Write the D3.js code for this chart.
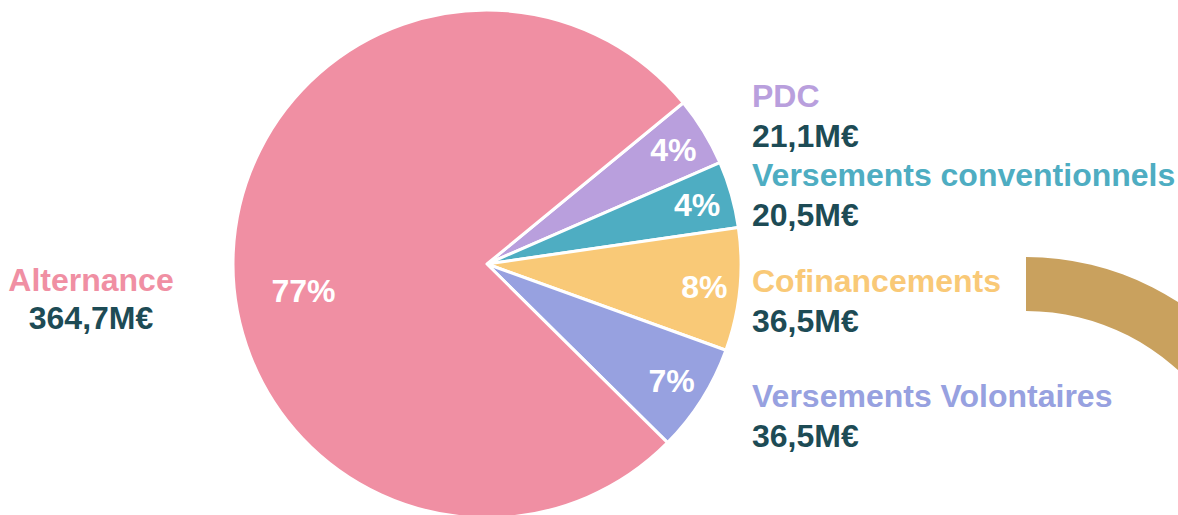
<!DOCTYPE html>
<html>
<head>
<meta charset="utf-8">
<script src="https://cdn.jsdelivr.net/npm/d3@7"></script>
<style>
  html, body { margin: 0; padding: 0; background: #fff; }
  svg { display: block; font-family: "Liberation Sans", Arial, sans-serif; font-weight: bold; }
</style>
</head>
<body>
<div id="chart"></div>
<script>
// Funding sources (order clockwise from the Alternance / PDC boundary)
const categories = ['PDC', 'Versements conventionnels', 'Cofinancements', 'Versements Volontaires', 'Alternance'];
// slice shares as drawn
const shares = [4.4, 4.25, 7.8, 6.9, 76.6];
const percentLabels = ['4%', '4%', '8%', '7%', '77%'];
const amountLabels = ['21,1M€', '20,5M€', '36,5M€', '36,5M€', '364,7M€'];
const colors = ['#b99fdd', '#4eadc2', '#f9c977', '#97a1e0', '#f08fa3'];
// neighbouring gauge, cut off at the right edge
const sideGaugeShare = 0.3;

const width = 1178;
const height = 515;
const cx = 487, cy = 264, radius = 254;
const fontSize = 32;
const valueColor = '#1d4b55';

const svg = d3.select('#chart')
  .append('svg')
  .attr('width', width)
  .attr('height', height);

const data = categories.map((name, i) => ({
  name,
  share: shares[i],
  pct: percentLabels[i],
  amount: amountLabels[i],
  color: colors[i]
}));

const startAngle = 50.6 * Math.PI / 180;
const pie = d3.pie()
  .sort(null)
  .value(d => d.share)
  .startAngle(startAngle)
  .endAngle(startAngle + 2 * Math.PI);

const arcs = pie(data);
const arc = d3.arc().innerRadius(0).outerRadius(radius);

const g = svg.append('g')
  .attr('transform', `translate(${cx},${cy})`);

g.selectAll('path.slice')
  .data(arcs)
  .join('path')
  .attr('class', 'slice')
  .attr('d', arc)
  .attr('fill', d => d.data.color)
  .attr('stroke', '#fff')
  .attr('stroke-width', 3)
  .attr('stroke-linejoin', 'round');

// Percent labels inside the slices
g.selectAll('text.pct')
  .data(arcs)
  .join('text')
  .attr('class', 'pct')
  .attr('transform', d => {
    let a = (d.startAngle + d.endAngle) / 2;
    let r = radius * 0.86;
    if (d.data.name === 'Alternance') { a -= 0.187; r = radius * 0.73; }
    return `translate(${r * Math.sin(a)},${-r * Math.cos(a)})`;
  })
  .attr('text-anchor', 'middle')
  .attr('dy', '0.36em')
  .attr('fill', '#fff')
  .style('font-size', fontSize + 'px')
  .text(d => d.data.pct);

// Labels at the right (first four) and the left (Alternance)
const rightX = 752;
const rightBaselines = [107, 186, 292, 407];
const lineGap = 40;

data.slice(0, 4).forEach((d, i) => {
  const t = svg.append('text')
    .attr('x', rightX)
    .attr('y', rightBaselines[i])
    .style('font-size', fontSize + 'px');
  t.append('tspan')
    .attr('fill', d.color)
    .text(d.name);
  t.append('tspan')
    .attr('x', rightX)
    .attr('dy', lineGap)
    .attr('fill', valueColor)
    .text(d.amount);
});

const alt = data[4];
const leftLabel = svg.append('text')
  .attr('x', 91)
  .attr('y', 291)
  .attr('text-anchor', 'middle')
  .style('font-size', fontSize + 'px');
leftLabel.append('tspan')
  .attr('fill', alt.color)
  .text(alt.name);
leftLabel.append('tspan')
  .attr('x', 91)
  .attr('dy', 38)
  .attr('fill', valueColor)
  .text(alt.amount);

// Partial gauge from the next panel
const gaugeArc = d3.arc()
  .innerRadius(225)
  .outerRadius(279)
  .startAngle(0)
  .endAngle(sideGaugeShare * 2 * Math.PI);

svg.append('path')
  .attr('transform', 'translate(1026,536)')
  .attr('d', gaugeArc())
  .attr('fill', '#c9a15e');
</script>
</body>
</html>
